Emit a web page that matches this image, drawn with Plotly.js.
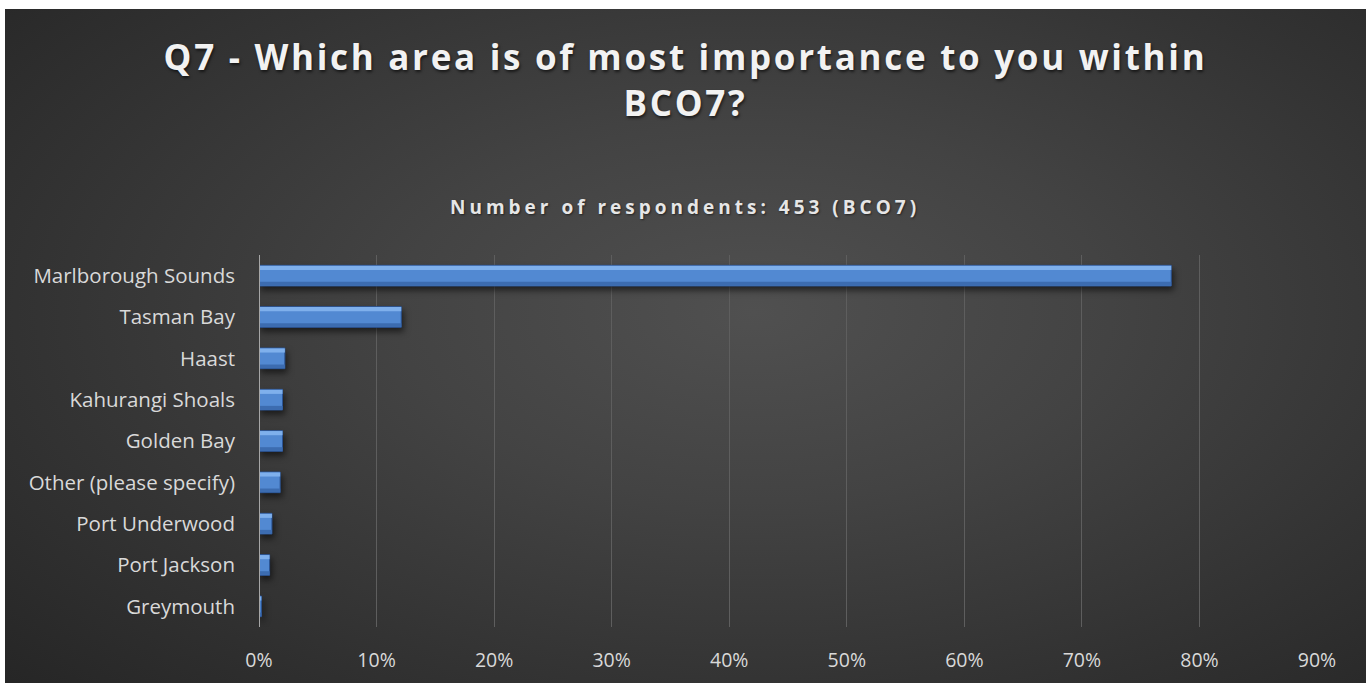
<!DOCTYPE html>
<html>
<head>
<meta charset="utf-8">
<script src="https://cdn.plot.ly/plotly-3.0.1.min.js"></script>
<style>
  html, body { margin: 0; padding: 0; background: #ffffff; width: 1370px; height: 683px; overflow: hidden; }
  #chart {
    position: absolute; left: 5px; top: 9px; width: 1361px; height: 674px;
    background: radial-gradient(ellipse 75% 80% at 55% 45%, #505050 0%, #434343 35%, #333333 70%, #262626 100%);
  }
  #chart .gtitle { letter-spacing: 2.7px; text-shadow: 1px 2px 3px rgba(0,0,0,0.6); }
  #chart .annotation-text-g text { letter-spacing: 4px; text-shadow: 1px 1px 2px rgba(0,0,0,0.5); }
  #chart .barlayer .trace:first-child .point path { filter: drop-shadow(2px 4px 3px rgba(0,0,0,0.55)); }
</style>
</head>
<body>
<div id="chart"></div>
<script>
const categories = ["Marlborough Sounds", "Tasman Bay", "Haast", "Kahurangi Shoals", "Golden Bay",
  "Other (please specify)", "Port Underwood", "Port Jackson", "Greymouth"];
const shares = [0.776, 0.121, 0.022, 0.020, 0.020, 0.018, 0.011, 0.009, 0.002];
const xTickValues = [0, 0.1, 0.2, 0.3, 0.4, 0.5, 0.6, 0.7, 0.8, 0.9];
const xTickLabels = ["0%", "10%", "20%", "30%", "40%", "50%", "60%", "70%", "80%", "90%"];
const titleText = "Q7 - Which area is of most importance to you within<br>BCO7?";
const subtitleText = "Number of respondents: 453 (BCO7)";

const main = {
  type: "bar", orientation: "h", y: categories, x: shares,
  width: 0.5, offset: -0.25,
  marker: { color: "#5289d2", line: { color: "#2b5494", width: 1 } },
  hoverinfo: "skip"
};
const topStrip = {
  type: "bar", orientation: "h", y: categories, x: shares,
  width: 0.1, offset: -0.24,
  marker: { color: "#7fb0ec", line: { width: 0 } },
  hoverinfo: "skip"
};
const bottomStrip = {
  type: "bar", orientation: "h", y: categories, x: shares,
  width: 0.09, offset: 0.15,
  marker: { color: "#3c6cb0", line: { width: 0 } },
  hoverinfo: "skip"
};

const layout = {
  width: 1361, height: 674,
  paper_bgcolor: "rgba(0,0,0,0)", plot_bgcolor: "rgba(0,0,0,0)",
  margin: { l: 253.5, r: 49, t: 246, b: 56 },
  showlegend: false,
  barmode: "overlay",
  font: { family: "'Open Sans', sans-serif", color: "#d9d9d9" },
  title: {
    text: titleText,
    font: { family: "'Open Sans', sans-serif", size: 35, color: "#f2f2f2", weight: "bold" },
    x: 0.5, xanchor: "center", y: 1 - 61/674, yanchor: "top", yref: "container"
  },
  annotations: [{
    text: "<b>" + subtitleText + "</b>",
    xref: "paper", yref: "paper", x: (685 - 5 - 253.5) / (1361 - 253.5 - 49), xanchor: "center",
    y: 1 + (246 - 198) / 372, yanchor: "middle", showarrow: false,
    font: { family: "'Open Sans', sans-serif", size: 19, color: "#e6e6e6" }
  }],
  xaxis: {
    range: [0, 0.9], tickvals: xTickValues, ticktext: xTickLabels,
    showgrid: true, gridcolor: "#5e5e5e", gridwidth: 1,
    zeroline: false, showline: false, ticks: "",
    tickfont: { size: 19.5, color: "#d9d9d9" }, ticklabelstandoff: 19
  },
  yaxis: {
    type: "category", categoryorder: "array", categoryarray: categories,
    autorange: "reversed",
    showgrid: false, zeroline: false, showline: false, ticks: "",
    tickfont: { size: 20.5, color: "#d9d9d9" }, ticklabelstandoff: 23
  },
  shapes: [{
    type: "line", xref: "x", yref: "paper", x0: 0, x1: 0, y0: 0, y1: 1,
    line: { color: "#a6a6a6", width: 2 }
  }]
};

Plotly.newPlot("chart", [main, topStrip, bottomStrip], layout, { staticPlot: true, displayModeBar: false });
</script>
</body>
</html>
